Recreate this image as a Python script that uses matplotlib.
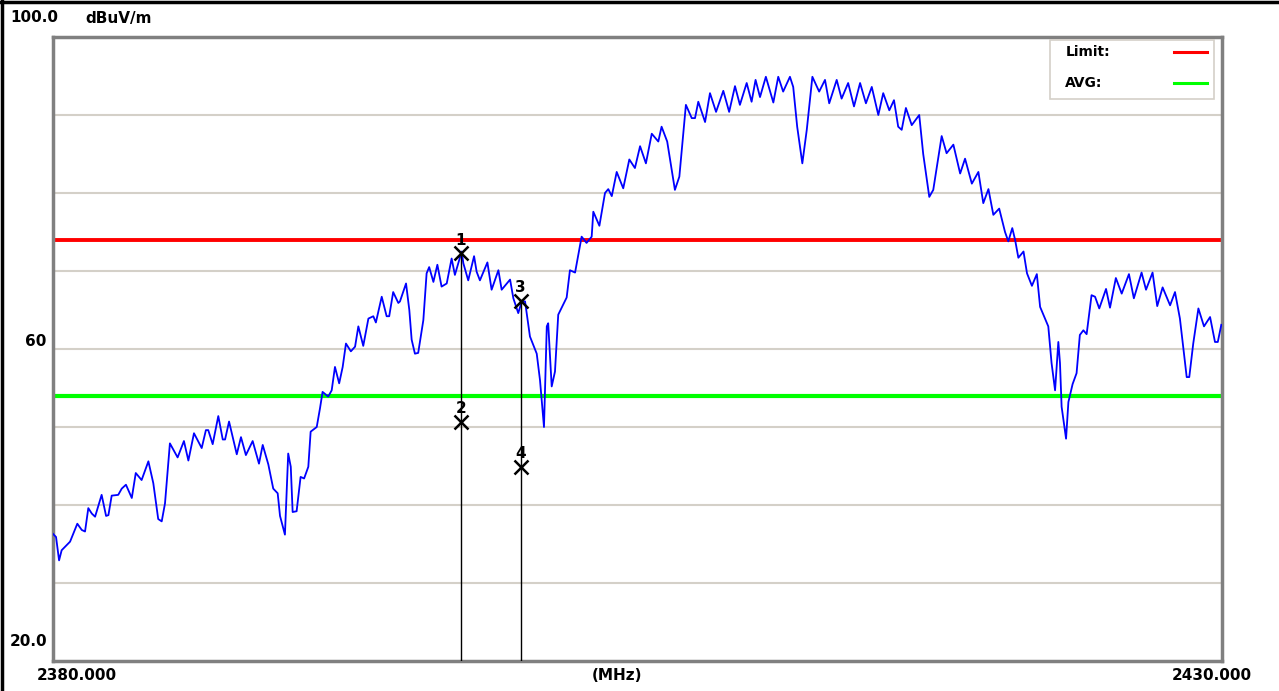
import numpy as np
import matplotlib.pyplot as plt
from matplotlib.lines import Line2D
from matplotlib.patches import Rectangle

# trace: frequency (MHz) and level (dBuV/m)
freq = [2380.00, 2380.13, 2380.26, 2380.37, 2380.73, 2381.04, 2381.23, 2381.37, 2381.51, 2381.66,
        2381.80, 2382.08, 2382.27, 2382.37, 2382.51, 2382.79, 2382.94, 2383.12, 2383.37, 2383.54,
        2383.79, 2384.08, 2384.29, 2384.50, 2384.65, 2384.79, 2385.00, 2385.33, 2385.60, 2385.79,
        2386.03, 2386.36, 2386.54, 2386.64, 2386.83, 2387.07, 2387.26, 2387.36, 2387.53, 2387.86,
        2388.04, 2388.25, 2388.54, 2388.81, 2388.97, 2389.21, 2389.42, 2389.61, 2389.71, 2389.92,
        2390.06, 2390.17, 2390.25, 2390.42, 2390.59, 2390.74, 2390.92, 2391.02, 2391.28, 2391.42,
        2391.53, 2391.77, 2391.92, 2392.06, 2392.24, 2392.39, 2392.53, 2392.74, 2392.92, 2393.06,
        2393.27, 2393.49, 2393.70, 2393.81, 2394.06, 2394.27, 2394.38, 2394.55, 2394.77, 2394.84,
        2395.10, 2395.24, 2395.34, 2395.48, 2395.62, 2395.84, 2395.98, 2396.09, 2396.27, 2396.44,
        2396.62, 2396.84, 2397.05, 2397.19, 2397.48, 2397.55, 2397.76, 2398.01, 2398.12, 2398.26,
        2398.58, 2398.76, 2399.05, 2399.19, 2399.55, 2399.69, 2399.90, 2400.05, 2400.19, 2400.40,
        2400.69, 2400.83, 2401.00, 2401.12, 2401.18, 2401.33, 2401.47, 2401.61, 2401.97, 2402.11,
        2402.33, 2402.61, 2402.82, 2403.04, 2403.11, 2403.37, 2403.61, 2403.75, 2403.90, 2404.11,
        2404.39, 2404.65, 2404.89, 2405.11, 2405.36, 2405.61, 2405.89, 2406.03, 2406.27, 2406.60,
        2406.79, 2407.07, 2407.32, 2407.46, 2407.60, 2407.89, 2408.10, 2408.36, 2408.67, 2408.92,
        2409.17, 2409.38, 2409.67, 2409.88, 2410.05, 2410.24, 2410.49, 2410.81, 2411.02, 2411.23,
        2411.52, 2411.66, 2411.83, 2412.05, 2412.24, 2412.48, 2412.77, 2413.02, 2413.20, 2413.52,
        2413.73, 2414.01, 2414.26, 2414.52, 2414.77, 2415.02, 2415.30, 2415.51, 2415.77, 2415.97,
        2416.15, 2416.30, 2416.48, 2416.73, 2417.05, 2417.22, 2417.48, 2417.65, 2418.01, 2418.22,
        2418.51, 2418.80, 2419.01, 2419.30, 2419.58, 2419.79, 2420.01, 2420.22, 2420.47, 2420.72,
        2420.86, 2421.03, 2421.15, 2421.29, 2421.51, 2421.66, 2421.87, 2422.08, 2422.22, 2422.57,
        2422.71, 2422.86, 2423.00, 2423.07, 2423.14, 2423.33, 2423.43, 2423.61, 2423.78, 2423.92,
        2424.07, 2424.21, 2424.42, 2424.57, 2424.75, 2425.04, 2425.21, 2425.46, 2425.71, 2426.02,
        2426.23, 2426.56, 2426.75, 2427.03, 2427.23, 2427.46, 2427.78, 2427.99, 2428.20, 2428.49,
        2428.60, 2428.77, 2428.99, 2429.23, 2429.49, 2429.70, 2429.82, 2429.97]
level = [36.3, 35.9, 32.9, 34.2, 35.3, 37.6, 36.8, 36.6, 39.6, 38.9,
         38.5, 41.3, 38.6, 38.7, 41.2, 41.3, 42.1, 42.6, 40.9, 44.1,
         43.2, 45.6, 42.8, 38.2, 37.9, 40.2, 47.9, 46.1, 48.2, 45.7,
         49.2, 47.3, 49.6, 49.6, 47.8, 51.4, 48.4, 48.4, 50.7, 46.5,
         48.7, 46.4, 48.2, 45.3, 47.7, 45.2, 42.1, 41.5, 38.6, 36.2,
         46.6, 44.9, 39.1, 39.2, 43.6, 43.4, 44.9, 49.4, 50.0, 52.4,
         54.5, 53.9, 54.7, 57.7, 55.6, 57.7, 60.7, 59.7, 60.3, 62.9,
         60.4, 63.9, 64.2, 63.4, 66.7, 64.2, 64.2, 67.3, 65.9, 66.1,
         68.4, 65.0, 61.2, 59.4, 59.5, 63.7, 69.7, 70.5, 68.6, 70.8,
         68.0, 68.4, 71.6, 69.5, 72.5, 71.0, 68.8, 71.9, 69.9, 68.8,
         71.1, 67.6, 70.1, 67.6, 68.9, 66.5, 64.6, 66.1, 66.1, 61.6,
         59.4, 56.0, 50.0, 62.9, 63.3, 55.2, 57.1, 64.4, 66.6, 70.1,
         69.8, 74.4, 73.6, 74.4, 77.6, 75.8, 80.0, 80.5, 79.6, 82.7,
         80.6, 84.3, 83.2, 86.0, 83.8, 87.6, 86.6, 88.5, 86.6, 80.4,
         82.1, 91.3, 89.6, 89.6, 91.7, 89.1, 92.8, 90.4, 93.1, 90.4,
         93.7, 91.3, 94.1, 91.7, 94.5, 92.3, 94.9, 91.6, 94.9, 93.0,
         94.9, 93.6, 88.5, 83.8, 88.1, 94.9, 93.0, 94.5, 91.5, 94.5,
         92.1, 94.1, 91.1, 94.1, 91.5, 93.6, 90.0, 92.8, 90.6, 91.9,
         88.5, 88.1, 90.9, 88.7, 90.0, 85.0, 79.5, 80.4, 87.3, 85.1,
         86.2, 82.5, 84.4, 81.2, 82.7, 78.7, 80.5, 77.2, 78.0, 75.0,
         73.8, 75.5, 74.0, 71.7, 72.5, 69.7, 68.1, 69.6, 65.4, 62.9,
         58.2, 54.7, 60.9, 58.2, 52.6, 48.5, 53.2, 55.5, 56.9, 61.8,
         62.4, 61.9, 66.9, 66.7, 65.2, 67.7, 65.3, 69.1, 67.1, 69.6,
         66.5, 69.8, 67.6, 69.8, 65.5, 67.9, 65.6, 67.3, 63.9, 56.4,
         56.4, 60.7, 65.2, 62.9, 64.1, 60.9, 60.9, 63.1]

limit = 74.0
avg = 54.0

marker_ids = ["1", "2", "3", "4"]
marker_freq = [2397.45, 2397.45, 2400.0, 2400.0]
marker_level = [72.3, 50.7, 66.2, 44.9]

x_min, x_max = 2380.0, 2430.0
y_min, y_max = 20.0, 100.0

fig = plt.figure(figsize=(12.79, 6.91), dpi=100)
ax = fig.add_axes([53/1279, 1 - 661/691, 1169/1279, 624/691])

for g in np.arange(30, 100, 10):
    ax.axhline(g, color='#d4d0c8', lw=1.5, zorder=1)

ax.axhline(limit, color='#ff0000', lw=2.8, zorder=2)
ax.axhline(avg, color='#00ff00', lw=3, zorder=2)

ax.plot(freq, level, color='#0000ff', lw=1.3, zorder=3)

# marker drop lines, from the upper marker of each pair down to the floor
for i in (0, 2):
    ax.plot([marker_freq[i], marker_freq[i]], [marker_level[i], y_min], color='black', lw=1.0, zorder=4)
ax.plot(marker_freq, marker_level, 'x', color='black', ms=10, mew=1.8, ls='none', zorder=5)
for m, f, l in zip(marker_ids, marker_freq, marker_level):
    ax.annotate(m, (f, l), xytext=(0, 4), textcoords='offset points', ha='center', va='bottom',
                fontsize=11, fontweight='bold', zorder=6)

ax.set_xlim(x_min, x_max)
ax.set_ylim(y_min, y_max)
ax.set_xticks([])
ax.set_yticks([])
for s in ax.spines.values():
    s.set_color('#808080')
    s.set_linewidth(2.5)

# legend box drawn by hand: label on the left, line sample on the right
ax.add_patch(Rectangle((0.853, 0.901), 0.140, 0.094, transform=ax.transAxes,
                       facecolor='white', edgecolor='#d4d0c8', lw=1.2, zorder=7))
ax.text(0.866, 0.976, "Limit:", transform=ax.transAxes, fontsize=10, fontweight='bold',
        va='center', ha='left', zorder=8)
ax.text(0.866, 0.926, "AVG:", transform=ax.transAxes, fontsize=10, fontweight='bold',
        va='center', ha='left', zorder=8)
ax.plot([0.959, 0.987], [0.976, 0.976], transform=ax.transAxes, color='#ff0000', lw=2.2, zorder=8)
ax.plot([0.959, 0.987], [0.926, 0.926], transform=ax.transAxes, color='#00ff00', lw=2.2, zorder=8)

# axis annotations in the analyser style
lab = dict(fontsize=11, fontweight='bold', color='black')
fig.text(10/1279, 1 - 18/691, "100.0", ha='left', va='center', **lab)
fig.text(85/1279, 1 - 18/691, "dBuV/m", ha='left', va='center', **lab)
ax.text(-0.006, 60, "60", transform=ax.get_yaxis_transform(), ha='right', va='bottom', **lab)
fig.text(10/1279, 1 - 641/691, "20.0", ha='left', va='center', **lab)
fig.text(77/1279, 1 - 676/691, "%.3f" % x_min, ha='center', va='center', **lab)
fig.text(617/1279, 1 - 676/691, "(MHz)", ha='center', va='center', **lab)
fig.text(1212/1279, 1 - 676/691, "%.3f" % x_max, ha='center', va='center', **lab)

# dark frame on the left and top of the window
fig.add_artist(Line2D([2/1279, 2/1279], [0, 1], color='black', lw=2.5))
fig.add_artist(Line2D([0, 1], [1 - 2/691, 1 - 2/691], color='black', lw=2.5))

fig.savefig("out.png", dpi=100)
